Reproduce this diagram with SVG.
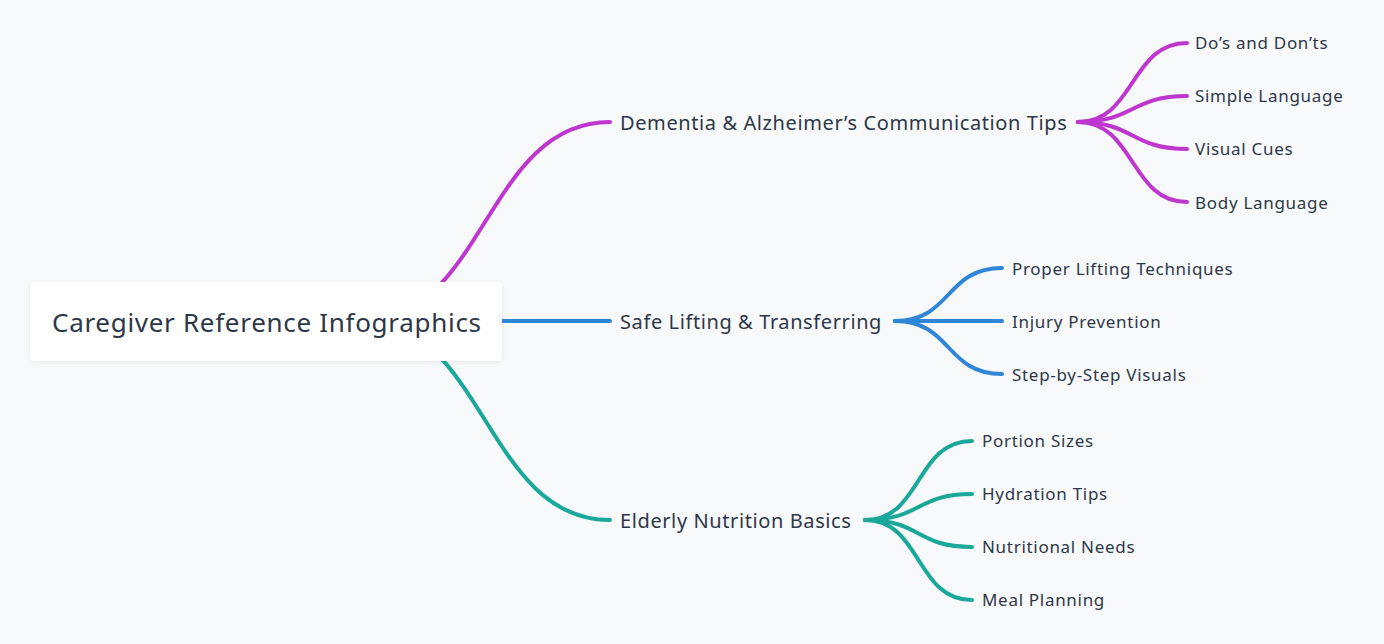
<svg xmlns="http://www.w3.org/2000/svg" width="1384" height="644" viewBox="0 0 1384 644">
<defs>
<filter id="sh" x="-10%" y="-30%" width="120%" height="160%"><feDropShadow dx="0" dy="1" stdDeviation="2" flood-color="#000" flood-opacity="0.08"/></filter>
<style>
.l{fill:none;stroke-width:4;stroke-linecap:round}
.p{stroke:#BF36CF}.b{stroke:#2F86D6}.t{stroke:#1AA89A}
text{font-family:"Noto Sans","DejaVu Sans",sans-serif;fill:#2d3748}
.m{font-size:20px;letter-spacing:0.6px}.s{font-size:17px;letter-spacing:0.7px}
</style>
</defs>
<rect width="1384" height="644" fill="#f8f9fb"/>
<g id="connectors">
<path class="l p" d="M360,322 C485,322 485,122 610,122"/>
<path class="l b" d="M400,321 L610,321"/>
<path class="l t" d="M360,320 C485,320 485,520 610,520"/>
<path class="l p" d="M1078,122 C1135,122 1130,43 1187,43"/>
<path class="l p" d="M1078,122 C1135,122 1130,96 1187,96"/>
<path class="l p" d="M1078,122 C1135,122 1130,149 1187,149"/>
<path class="l p" d="M1078,122 C1135,122 1130,202 1187,202"/>
<path class="l b" d="M895,321 C952,321 945,268 1002,268"/>
<path class="l b" d="M895,321 L1002,321"/>
<path class="l b" d="M895,321 C952,321 945,374 1002,374"/>
<path class="l t" d="M865,520 C922,520 915,441 972,441"/>
<path class="l t" d="M865,520 C922,520 915,494 972,494"/>
<path class="l t" d="M865,520 C922,520 915,547 972,547"/>
<path class="l t" d="M865,520 C922,520 915,600 972,600"/>
</g>
<g id="root"><rect x="30" y="282" width="472" height="79" rx="4" fill="#fff" filter="url(#sh)"/><text x="52" y="332" font-size="26" letter-spacing="0.7">Caregiver Reference Infographics</text></g>
<g id="n1"><text class="m" x="620" y="130">Dementia &amp; Alzheimer’s Communication Tips</text></g>
<g id="n2"><text class="m" x="620" y="329">Safe Lifting &amp; Transferring</text></g>
<g id="n3"><text class="m" x="620" y="528">Elderly Nutrition Basics</text></g>
<g id="l1"><text class="s" x="1195" y="49">Do’s and Don’ts</text></g>
<g id="l2"><text class="s" x="1195" y="102">Simple Language</text></g>
<g id="l3"><text class="s" x="1195" y="155">Visual Cues</text></g>
<g id="l4"><text class="s" x="1195" y="209">Body Language</text></g>
<g id="l5"><text class="s" x="1012" y="275">Proper Lifting Techniques</text></g>
<g id="l6"><text class="s" x="1012" y="328">Injury Prevention</text></g>
<g id="l7"><text class="s" x="1012" y="381">Step-by-Step Visuals</text></g>
<g id="l8"><text class="s" x="982" y="447">Portion Sizes</text></g>
<g id="l9"><text class="s" x="982" y="500">Hydration Tips</text></g>
<g id="l10"><text class="s" x="982" y="553">Nutritional Needs</text></g>
<g id="l11"><text class="s" x="982" y="606">Meal Planning</text></g>
</svg>
